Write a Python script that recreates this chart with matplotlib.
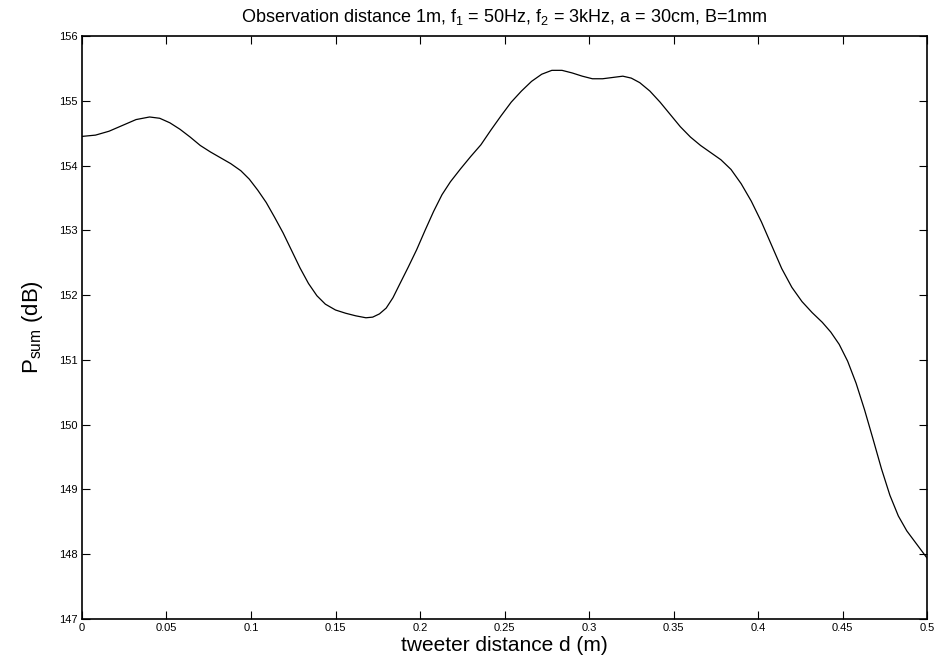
import matplotlib
matplotlib.use("Agg")
import matplotlib.pyplot as plt

plt.rcParams['font.family'] = ['Liberation Sans', 'DejaVu Sans']
plt.rcParams['mathtext.default'] = 'regular'

# summed pressure level vs. tweeter spacing
d = [0.000, 0.008, 0.016, 0.024, 0.032, 0.040, 0.046, 0.052, 0.058, 0.064,
     0.070, 0.076, 0.082, 0.088, 0.094, 0.099, 0.104, 0.109, 0.114, 0.119,
     0.124, 0.129, 0.134, 0.139, 0.144, 0.150, 0.156, 0.162, 0.168, 0.172,
     0.176, 0.180, 0.184, 0.188, 0.193, 0.198, 0.203, 0.208, 0.213, 0.218,
     0.224, 0.230, 0.236, 0.242, 0.248, 0.254, 0.260, 0.266, 0.272, 0.278,
     0.284, 0.290, 0.296, 0.302, 0.308, 0.314, 0.320, 0.325, 0.330, 0.336,
     0.342, 0.348, 0.354, 0.360, 0.366, 0.372, 0.378, 0.384, 0.390, 0.396,
     0.402, 0.408, 0.414, 0.420, 0.426, 0.432, 0.438, 0.443, 0.448, 0.453,
     0.458, 0.463, 0.468, 0.473, 0.478, 0.483, 0.488, 0.494, 0.500]
p_sum = [154.45, 154.47, 154.53, 154.62, 154.71, 154.75, 154.73, 154.66, 154.56, 154.44,
         154.31, 154.21, 154.12, 154.03, 153.92, 153.79, 153.62, 153.43, 153.20, 152.96,
         152.69, 152.42, 152.18, 151.99, 151.86, 151.77, 151.72, 151.68, 151.65, 151.66,
         151.71, 151.80, 151.96, 152.17, 152.43, 152.70, 153.00, 153.29, 153.55, 153.75,
         153.95, 154.14, 154.32, 154.55, 154.77, 154.98, 155.15, 155.30, 155.41, 155.47,
         155.47, 155.43, 155.38, 155.34, 155.34, 155.36, 155.38, 155.35, 155.28, 155.15,
         154.98, 154.79, 154.60, 154.44, 154.31, 154.20, 154.09, 153.94, 153.72, 153.45,
         153.13, 152.77, 152.41, 152.12, 151.90, 151.73, 151.58, 151.43, 151.24, 150.98,
         150.64, 150.23, 149.78, 149.32, 148.91, 148.59, 148.36, 148.15, 147.94]

xticks = [0, 0.05, 0.1, 0.15, 0.2, 0.25, 0.3, 0.35, 0.4, 0.45, 0.5]
xticklabels = ['0', '0.05', '0.1', '0.15', '0.2', '0.25', '0.3', '0.35', '0.4', '0.45', '0.5']
yticks = list(range(147, 157))

fig = plt.figure(figsize=(9.39, 6.62), dpi=100)
ax = fig.add_axes([0.0873, 0.0650, 0.9000, 0.8806])

ax.plot(d, p_sum, color='black', linewidth=0.9)

ax.set_xlim(0, 0.5)
ax.set_ylim(147, 156)
ax.set_xticks(xticks)
ax.set_xticklabels(xticklabels)
ax.set_yticks(yticks)
ax.tick_params(direction='in', length=6, width=0.8, labelsize=8,
               top=True, right=True, pad=3)
for s in ax.spines.values():
    s.set_linewidth(1.2)

ax.set_xlabel("tweeter distance d (m)", fontsize=15, labelpad=2)
ax.set_ylabel("P$_{sum}$ (dB)", fontsize=16, labelpad=10)
ax.set_title("Observation distance 1m, f$_1$ = 50Hz, f$_2$ = 3kHz, a = 30cm, B=1mm",
             fontsize=13, pad=10)

fig.savefig("out.png", dpi=100)
